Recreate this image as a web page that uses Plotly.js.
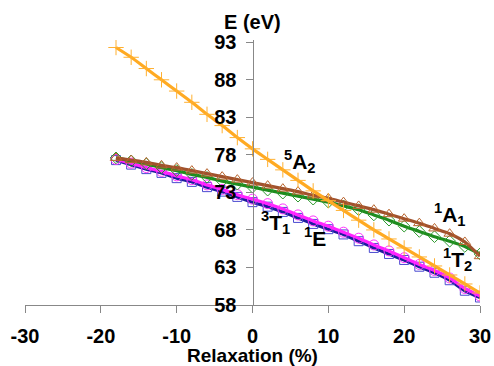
<!DOCTYPE html>
<html>
<head>
<meta charset="utf-8">
<script src="https://cdn.plot.ly/plotly-3.0.1.min.js"></script>
<style>html,body{margin:0;padding:0;background:#fff;}#chart{width:494px;height:366px;}</style>
</head>
<body>
<div id="chart"></div>
<script>
// Relaxation (%)
const relaxation = [-18,-16,-14,-12,-10,-8,-6,-4,-2,0,2,4,6,8,10,12,14,16,18,20,22,24,26,28,30];
// Energies (eV)
const e5A2 = [92.3,91.0,89.5,88.0,86.5,85.0,83.4,81.9,80.3,78.8,77.4,76.0,74.6,73.2,71.9,70.6,69.3,68.0,66.8,65.6,64.4,63.2,62.0,60.8,59.6];
const e1A1 = [77.6,77.3,77.0,76.6,76.3,75.9,75.5,75.1,74.7,74.3,73.9,73.5,73.1,72.6,72.2,71.7,71.2,70.7,70.1,69.5,68.9,68.2,67.5,66.4,64.5];
const e1T2 = [77.6,77.2,76.8,76.3,75.9,75.4,75.0,74.5,74.1,73.7,73.3,72.9,72.5,72.1,71.7,71.2,70.7,70.0,69.3,68.5,67.8,67.1,66.5,65.8,64.8];
const e1E  = [77.4,76.9,76.3,75.8,75.2,74.7,74.0,73.4,72.7,72.1,71.5,70.8,70.0,69.2,68.5,67.7,66.9,66.0,65.2,64.3,63.4,62.6,61.6,60.2,59.2];
const e3T1 = [77.3,76.7,76.1,75.6,74.9,74.4,73.7,73.1,72.4,71.7,71.1,70.4,69.6,68.8,68.1,67.4,66.5,65.6,64.8,64.0,63.1,62.3,61.3,59.9,59.0];
const xTicks = [-30,-20,-10,0,10,20,30];
const yTicks = [58,63,68,73,78,83,88,93];

function tr(y, lineColor, markerColor, symbol, size) {
  return {
    x: relaxation, y: y, type: 'scatter', mode: 'lines+markers',
    line: {color: lineColor, width: 3.2, shape: 'spline', smoothing: 0.6},
    marker: {symbol: symbol, size: size, color: markerColor, line: {color: markerColor, width: 1}},
    hoverinfo: 'skip', showlegend: false
  };
}

const data = [
  tr(e3T1, '#1c1c9c', '#4a4ad0', 'square-open', 9),
  tr(e1E, '#ff22ff', '#ff33ff', 'circle-open', 10),
  tr(e1T2, '#1e8c1e', '#2e9a2e', 'diamond-open', 9),
  tr(e1A1, '#a0522d', '#b8642e', 'triangle-up-open', 10),
  tr(e5A2, '#ffaa22', '#ffb030', 'cross-thin-open', 11)
];

const lblFont = {family: 'Liberation Sans, Arial, sans-serif', size: 21, color: '#000', weight: 'bold'};
function lab(text, x, y) {
  return {text: text, x: x, y: y, xref: 'x', yref: 'y', showarrow: false, font: lblFont, xanchor: 'center', yanchor: 'middle'};
}

const layout = {
  width: 494, height: 366,
  margin: {l: 25, r: 14, t: 40, b: 61},
  paper_bgcolor: '#fff', plot_bgcolor: '#fff',
  font: {family: 'Liberation Sans, Arial, sans-serif', color: '#000'},
  xaxis: {
    range: [-30, 30], tickvals: xTicks, ticktext: xTicks.map(String),
    showgrid: false, zeroline: false, showline: true, linecolor: '#888', linewidth: 1,
    ticks: 'outside', ticklen: 7, tickcolor: '#888',
    tickfont: {size: 20, weight: 'bold', color: '#000'},
    ticklabelstandoff: 6,
    title: {text: 'Relaxation (%)', font: {size: 19, weight: 'bold', color: '#000'}, standoff: 3}
  },
  yaxis: {
    range: [58, 93.3], tickvals: yTicks, ticktext: yTicks.map(String),
    anchor: 'free', position: 0.5,
    showgrid: false, zeroline: false, showline: true, linecolor: '#888', linewidth: 1,
    ticks: 'outside', ticklen: 7, tickcolor: '#888',
    tickfont: {size: 20, weight: 'bold', color: '#000'},
    ticklabelstandoff: 5
  },
  annotations: [
    {text: 'E (eV)', x: 0, y: 1, xref: 'x', yref: 'paper', yanchor: 'middle', yshift: 18, showarrow: false,
     font: {family: 'Liberation Sans, Arial, sans-serif', size: 20, weight: 'bold', color: '#000'}},
    lab('<sup>5</sup>A<sub>2</sub>', 6.3, 77.1),
    lab('<sup>3</sup>T<sub>1</sub>', 3.0, 69.0),
    lab('<sup>1</sup>E', 8.3, 67.0),
    lab('<sup>1</sup>A<sub>1</sub>', 26.0, 70.0),
    lab('<sup>1</sup>T<sub>2</sub>', 27.0, 64.0)
  ]
};

Plotly.newPlot('chart', data, layout, {displayModeBar: false, staticPlot: true});
</script>
</body>
</html>
